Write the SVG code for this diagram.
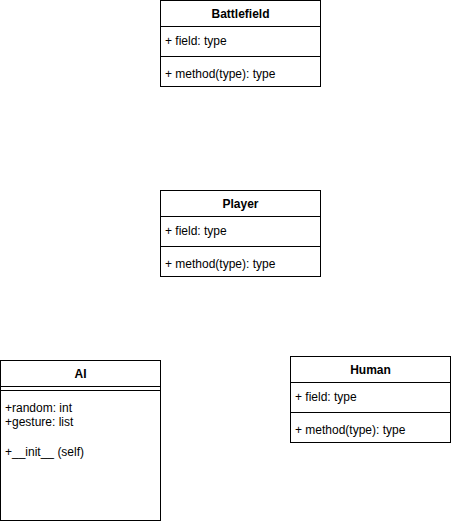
<svg xmlns="http://www.w3.org/2000/svg" width="451" height="524" viewBox="0 0 451 524">
<style>
.box{fill:#fff;stroke:#000;stroke-width:1}
.ln{stroke:#000;stroke-width:1;fill:none}
text{font-family:"Liberation Sans",Arial,sans-serif;font-size:12px;fill:#000}
.h{font-weight:bold;text-anchor:middle}
</style>
<rect width="451" height="524" fill="#fff"/>
<g id="connectors"></g>
<g id="battlefield">
<rect class="box" x="160.5" y="0.5" width="160" height="86"/>
<line class="ln" x1="160.5" y1="26.5" x2="320.5" y2="26.5"/>
<line class="ln" x1="160.5" y1="56.5" x2="320.5" y2="56.5"/>
<text class="h" x="240.5" y="18">Battlefield</text>
<text x="165" y="45">+ field: type</text>
<text x="165" y="78">+ method(type): type</text>
</g>
<g id="player">
<rect class="box" x="160.5" y="190.5" width="160" height="86"/>
<line class="ln" x1="160.5" y1="216.5" x2="320.5" y2="216.5"/>
<line class="ln" x1="160.5" y1="246.5" x2="320.5" y2="246.5"/>
<text class="h" x="240.5" y="208">Player</text>
<text x="165" y="235">+ field: type</text>
<text x="165" y="268">+ method(type): type</text>
</g>
<g id="ai">
<rect class="box" x="0.5" y="360.5" width="160" height="160"/>
<line class="ln" x1="0.5" y1="386.5" x2="160.5" y2="386.5"/>
<line class="ln" x1="0.5" y1="390.5" x2="160.5" y2="390.5"/>
<text class="h" x="80.5" y="378">AI</text>
<text x="5" y="412">+random: int</text>
<text x="5" y="426">+gesture: list</text>
<text x="5" y="456">+__init__ (self)</text>
</g>
<g id="human">
<rect class="box" x="290.5" y="356.5" width="160" height="86"/>
<line class="ln" x1="290.5" y1="382.5" x2="450.5" y2="382.5"/>
<line class="ln" x1="290.5" y1="412.5" x2="450.5" y2="412.5"/>
<text class="h" x="370.5" y="374">Human</text>
<text x="295" y="401">+ field: type</text>
<text x="295" y="434">+ method(type): type</text>
</g>
</svg>
